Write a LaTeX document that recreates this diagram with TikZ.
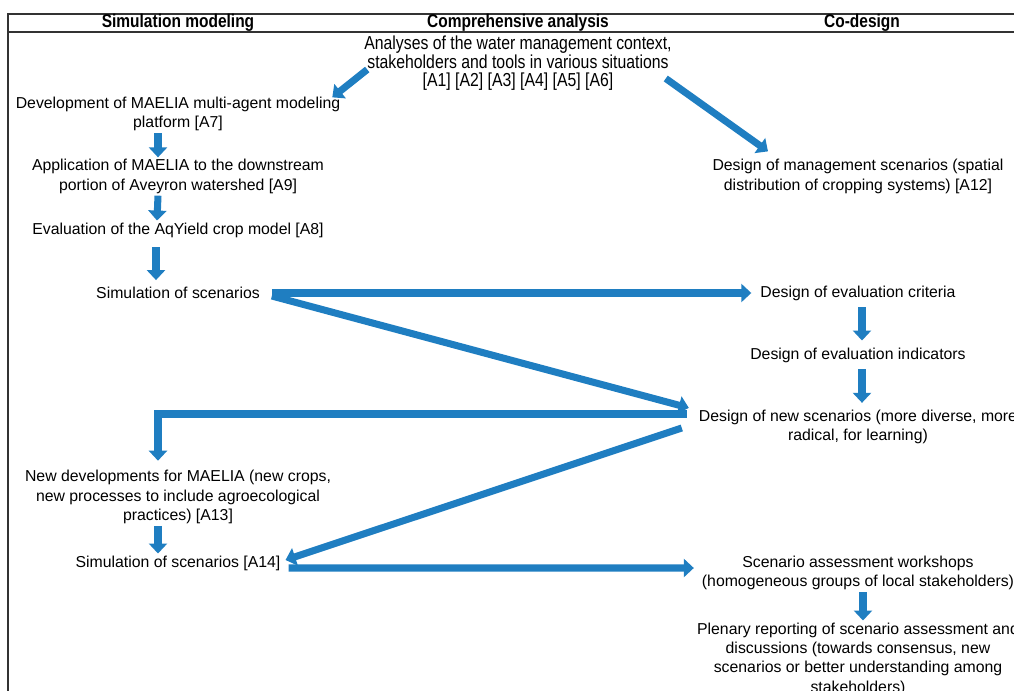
\documentclass[tikz,border=0pt]{standalone}
\usepackage{fontspec}
\setmainfont{Liberation Sans}
\newfontfamily\narrowfont{Liberation Sans}[FakeStretch=0.84]
\usepackage{xcolor}
\usepackage{tikz}
\usetikzlibrary{arrows.meta,positioning}
\definecolor{flowblue}{RGB}{31,126,193}

\begin{document}
\begin{tikzpicture}

\tikzset{
	act/.style={
		align=center,
		inner sep=1pt,
		font=\fontsize{9}{11}\selectfont},
	hdr/.style={
		inner sep=1pt,
		anchor=center,
		font=\narrowfont\bfseries\fontsize{10.5}{12}\selectfont},
	flow/.style={
		draw=flowblue,
		line width=4pt,
		-{Triangle[length=0.2cm,width=0.36cm]}},
	grid/.style={
		draw=black!80,
		line width=0.8pt}
}

\useasboundingbox (0,0) rectangle (20.28,-13.82);
\clip (0,0) rectangle (20.28,-13.82);

% table frame and headings
\draw[grid] (0.16,-0.28) rectangle (20.6,-14.2);
\draw[grid] (0.16,-0.64) -- (20.6,-0.64);
\node[hdr] (hsim) at (3.56,-0.45) {Simulation modeling};
\node[hdr] (hana) at (10.36,-0.45) {Comprehensive analysis};
\node[hdr] (hcod) at (17.24,-0.45) {Co-design};

\node[act,anchor=center,font=\narrowfont\fontsize{10.7}{10.6}\selectfont] (ana) at (10.36,-1.27)
{Analyses of the water management context,\\stakeholders and tools in various situations\\{}[A1] [A2] [A3] [A4] [A5] [A6]};

% simulation modeling column
\node[act,below=1.01cm of ana.center,anchor=center,xshift=-6.8cm] (dev)
{Development of MAELIA multi-agent modeling\\platform [A7]};
\node[act,below=1.25cm of dev.center,anchor=center] (app)
{Application of MAELIA to the downstream\\portion of Aveyron watershed [A9]};
\node[act,below=1.07cm of app.center,anchor=center] (evl) {Evaluation of the AqYield crop model [A8]};
\node[act,below=1.26cm of evl.center,anchor=center] (sim) {Simulation of scenarios};
\node[act,below=4.08cm of sim.center,anchor=center] (newdev)
{New developments for MAELIA (new crops,\\new processes to include agroecological\\practices) [A13]};
\node[act,below=1.32cm of newdev.center,anchor=center] (simb) {Simulation of scenarios [A14]};

% co-design column
\node[act,right=13.6cm of app.center,anchor=center] (mgmt)
{Design of management scenarios (spatial\\distribution of cropping systems) [A12]};
\node[act,below=2.33cm of mgmt.center,anchor=center] (crit) {Design of evaluation criteria};
\node[act,below=1.24cm of crit.center,anchor=center] (ind) {Design of evaluation indicators};
\node[act,below=1.44cm of ind.center,anchor=center] (newsc)
{Design of new scenarios (more diverse, more\\radical, for learning)};
\node[act,below=2.92cm of newsc.center,anchor=center] (work)
{Scenario assessment workshops\\(homogeneous groups of local stakeholders)};
\node[act,below=1.72cm of work.center,anchor=center] (plen)
{Plenary reporting of scenario assessment and\\discussions (towards consensus, new\\scenarios or better understanding among\\stakeholders)};

% arrows
\draw[flow] ([xshift=0.1cm,yshift=-0.12cm]ana.west) -- ([xshift=-0.2cm,yshift=-0.05cm]dev.north east);
\draw[flow] ([xshift=-0.16cm,yshift=-0.3cm]ana.east) -- ([xshift=-1.8cm,yshift=0.12cm]mgmt.north);
\draw[flow] ([xshift=-0.4cm]dev.south) -- ([xshift=-0.4cm]app.north);
\draw[flow] ([xshift=-0.4cm]app.south) -- ([xshift=-0.42cm]evl.north);
\draw[flow] ([xshift=-0.44cm,yshift=-0.16cm]evl.south) -- ([xshift=-0.44cm,yshift=0.1cm]sim.north);
\draw[flow] ([xshift=0.2cm]sim.east) -- ([xshift=-0.14cm]crit.west);
\draw[flow] ([xshift=0.2cm,yshift=-0.06cm]sim.east) -- ([xshift=-0.16cm,yshift=0cm]newsc.north west);
\draw[flow] ([xshift=0.08cm,yshift=-0.1cm]crit.south) -- ([xshift=0.08cm,yshift=0.1cm]ind.north);
\draw[flow] ([xshift=0.08cm,yshift=-0.1cm]ind.south) -- ([xshift=0.08cm,yshift=0.1cm]newsc.north);
\draw[flow] ([xshift=-0.2cm,yshift=0.26cm]newsc.west) -| ([xshift=-0.4cm,yshift=0.15cm]newdev.north);
\draw[flow] ([xshift=-0.3cm,yshift=-0.02cm]newsc.west) -- ([xshift=0.06cm,yshift=0.06cm]simb.east);
\draw[flow] ([xshift=-0.4cm]newdev.south) -- ([xshift=-0.4cm]simb.north);
\draw[flow] ([xshift=0.12cm,yshift=-0.1cm]simb.east) -- ([xshift=-0.12cm,yshift=0.1cm]work.west);
\draw[flow] ([xshift=0.1cm]work.south) -- ([xshift=0.1cm]plen.north);
\end{tikzpicture}
\end{document}
